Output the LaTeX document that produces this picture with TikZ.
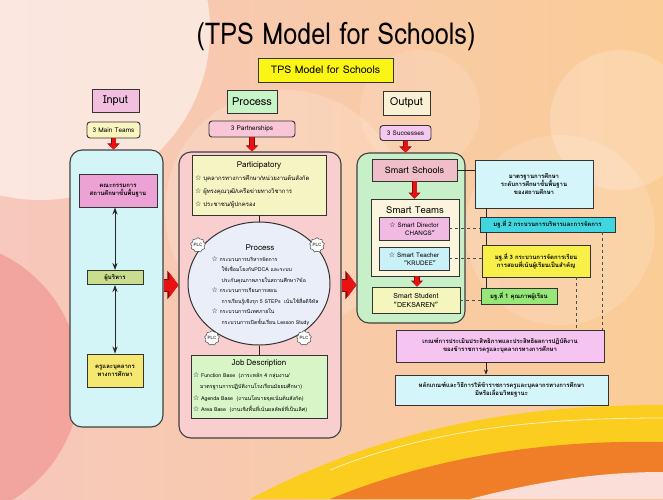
\documentclass[tikz,border=0pt]{standalone}
\usepackage{fontspec}
\setmainfont[Script=Thai]{Loma}
\newfontfamily\symfont{DejaVu Sans}
\usetikzlibrary{arrows.meta,shapes.geometric,shapes.symbols}
\definecolor{bgleft}{RGB}{247,200,188}
\definecolor{bgright}{RGB}{250,204,150}
\definecolor{bgred}{RGB}{238,135,135}
\definecolor{swyellow}{RGB}{250,205,30}
\definecolor{sworange}{RGB}{240,125,40}
\definecolor{arrred}{RGB}{232,18,18}
\definecolor{arrdark}{RGB}{130,10,10}
\definecolor{tpsyellow}{RGB}{250,245,20}
\definecolor{inpink}{RGB}{242,192,222}
\definecolor{prgreen}{RGB}{200,245,200}
\definecolor{outbeige}{RGB}{250,240,212}
\definecolor{teamyel}{RGB}{250,244,190}
\definecolor{partpink}{RGB}{248,198,214}
\definecolor{succlila}{RGB}{245,200,240}
\definecolor{incyan}{RGB}{212,245,248}
\definecolor{boardpink}{RGB}{236,162,212}
\definecolor{execgreen}{RGB}{200,222,142}
\definecolor{staffyel}{RGB}{245,232,112}
\definecolor{procpink}{RGB}{248,206,206}
\definecolor{partyel}{RGB}{245,245,196}
\definecolor{circblue}{RGB}{234,238,248}
\definecolor{jdgreen}{RGB}{216,245,200}
\definecolor{outgreen}{RGB}{200,240,200}
\definecolor{schpink}{RGB}{240,190,200}
\definecolor{teamcream}{RGB}{252,245,222}
\definecolor{dirpink}{RGB}{240,186,226}
\definecolor{teachcyan}{RGB}{202,240,248}
\definecolor{studyel}{RGB}{245,245,190}
\definecolor{stdcyan}{RGB}{212,245,250}
\definecolor{mtcyan}{RGB}{64,214,224}
\definecolor{mtyellow}{RGB}{248,240,72}
\definecolor{mtgreen}{RGB}{150,230,120}
\definecolor{critpink}{RGB}{245,196,240}
\newcommand{\wstar}{{\symfont\bfseries\fontsize{7}{7}\selectfont\char"2606}\ }
\begin{document}
\begin{tikzpicture}[x=1pt,y=-1pt,
  box/.style={draw=black!80, line width=0.9pt, align=center, inner sep=0pt},
  pill/.style={box, rounded corners=3pt},
  panel/.style={draw=black!75, line width=1.1pt, rounded corners=12pt},
  thai/.style={font=\fontsize{6}{8}\selectfont\bfseries},
  fatarr/.style={draw=arrred, line width=11pt, -{Triangle[length=9pt,width=24pt]},
    preaction={draw=arrdark, line width=13pt, -{Triangle[length=11pt,width=28pt]}}},
  downarr/.style={draw=arrred, line width=4pt, -{Triangle[length=5pt,width=10pt]},
    preaction={draw=arrdark, line width=5.5pt, -{Triangle[length=6pt,width=12pt]}}},
  link/.style={draw=black!85, line width=0.7pt},
  dlink/.style={draw=black!70, line width=0.5pt, dashed},
  plc/.style={cloud, cloud puffs=9, draw=black!70, fill=white, line width=0.5pt,
    minimum width=15pt, minimum height=12pt, inner sep=0pt, font=\fontsize{4.5}{5}\selectfont}]
\useasboundingbox (0,0) rectangle (663,499);
% background of the slide
\shade[left color=bgleft, right color=bgright] (0,0) rectangle (663,499);
\fill[white, opacity=0.55] (40,30) circle (170);
\fill[bgred, opacity=0.55] (-60,380) circle (140);
\fill[white, opacity=0.18] (285,210) circle (120);
\fill[white, opacity=0.15] (560,230) circle (95);
\fill[white, opacity=0.2] (620,120) circle (70);
\fill[white, opacity=0.12] (420,110) circle (60);
\fill[swyellow] (250,499) .. controls (400,420) and (540,405) .. (663,405) -- (663,499) -- cycle;
\draw[white, opacity=0.7, line width=0.8pt] (330,470) .. controls (440,425) and (560,418) .. (663,418);
\fill[sworange] (330,499) .. controls (450,450) and (570,440) .. (663,442) -- (663,499) -- cycle;
\fill[bgleft!60!white] (470,499) .. controls (550,478) and (610,472) .. (663,472) -- (663,499) -- cycle;

% title and heads
\node (title) at (336,37) {\scalebox{0.84}[1]{\fontsize{30}{30}\selectfont (TPS Model for Schools)}};
\node[box, fill=tpsyellow, minimum width=135pt, minimum height=24pt, font=\fontsize{10.5}{12}\selectfont] (tps) at (325.5,70) {TPS Model for Schools};
\node[box, fill=inpink, minimum width=47pt, minimum height=23pt, font=\fontsize{11}{12}\selectfont] (inhead) at (115.5,100.5) {Input};
\node[box, fill=prgreen, minimum width=50pt, minimum height=23pt, font=\fontsize{11}{12}\selectfont] (prochead) at (252,101.5) {Process};
\node[box, fill=outbeige, minimum width=47pt, minimum height=24pt, font=\fontsize{11}{12}\selectfont] (outhead) at (406.5,103) {Output};
\node[pill, fill=teamyel, minimum width=53pt, minimum height=16pt, font=\fontsize{6.5}{7}\selectfont] (teams) at (113.5,130) {3 Main Teams};
\node[pill, fill=partpink, minimum width=86pt, minimum height=16pt, font=\fontsize{6.5}{7}\selectfont] (partners) at (252,129) {3 Partnerships};
\node[pill, fill=succlila, minimum width=51pt, minimum height=15pt, font=\fontsize{6.5}{7}\selectfont] (succ) at (405.5,133) {3 Successes};

% input
\node[panel, fill=incyan, minimum width=93pt, minimum height=277pt] (inpanel) at (116.5,288.5) {};
\node[box, thai, fill=boardpink, minimum width=78pt, minimum height=33pt] (board) at (118,190.5) {คณะกรรมการ\\สถานศึกษาขั้นพื้นฐาน};
\node[box, thai, fill=execgreen, minimum width=56pt, minimum height=14pt] (exec) at (115,277.5) {ผู้บริหาร};
\node[box, thai, fill=staffyel, minimum width=56pt, minimum height=33pt] (staff) at (115,370.5) {ครูและบุคลากร\\ทางการศึกษา};
\draw[link, line width=1pt, {Stealth[length=7pt,width=5pt]}-{Stealth[length=7pt,width=5pt]}] (board.south -| exec.north) -- (exec.north);
\draw[link, line width=1pt, {Stealth[length=7pt,width=5pt]}-{Stealth[length=7pt,width=5pt]}] (exec.south) -- (staff.north);

% process
\node[panel, fill=procpink, minimum width=162pt, minimum height=286pt] (procpanel) at (260,295) {};
\node[box, fill=partyel, minimum width=134pt, minimum height=60pt, text width=128pt, align=left,
  font=\fontsize{6}{13}\selectfont] (partic) at (259,185)
  {\centering{\fontsize{8}{8}\selectfont Participatory}\par\raggedright
   \wstar บุคลากรทางการศึกษา/หน่วยงานต้นสังกัด\par
   \wstar ผู้ทรงคุณวุฒิ/เครือข่ายทางวิชาการ\par
   \wstar ประชาชน/ผู้ปกครอง\par};
\node[ellipse, draw=black!80, line width=1pt, fill=circblue, minimum width=142pt, minimum height=123pt] (proccirc) at (259,283.5) {};
\node[align=left, inner sep=0pt, font=\fontsize{5.2}{10.5}\selectfont] (proctext) at (265,285)
  {\hspace*{34pt}{\fontsize{8}{8}\selectfont Process}\\
   \wstar กระบวนการบริหารจัดการ\\
   \hspace*{10pt}ใช้เชื่อมโยงกับPDCA และระบบ\\
   \hspace*{10pt}ประกันคุณภาพภายในสถานศึกษา7ข้อ\\
   \wstar กระบวนการเรียนการสอน\\
   \hspace*{10pt}การเรียนรู้เชิงรุก 5 STEPs\ \ เน้นใช้สื่อดิจิทัล\\
   \wstar กระบวนการนิเทศภายใน\\
   \hspace*{10pt}กระบวนการเปิดชั้นเรียน Lesson Study};
\node[plc] (plca) at (198,245) {PLC};
\node[plc] (plcb) at (317,245) {PLC};
\node[plc] (plcc) at (212,338) {PLC};
\node[plc] (plcd) at (304,338) {PLC};
\node[box, fill=jdgreen, minimum width=136pt, minimum height=63pt, text width=132pt, align=left,
  font=\fontsize{5.3}{11.5}\selectfont] (jd) at (259,386.5)
  {\centering{\fontsize{8}{8}\selectfont Job Description}\par\raggedright
   \wstar Function Base\ \ (ภาระหลัก 4 กลุ่มงาน/\par
   \hspace*{7pt}มาตรฐานการปฏิบัติงานโรงเรียนมัธยมศึกษา)\par
   \wstar Agenda Base\ \ (งานนโยบายจุดเน้นต้นสังกัด)\par
   \wstar Area Base\ \ (งานเชิงพื้นที่เน้นผลลัพธ์ที่เป็นเลิศ)\par};
\draw[link] (partic.south) -- (proccirc.north);
\draw[link] (proccirc.south) -- (jd.north);

% output
\node[panel, fill=outgreen, minimum width=108pt, minimum height=170pt] (outpanel) at (411,238) {};
\node[box, fill=schpink, minimum width=85pt, minimum height=22pt, font=\fontsize{9}{10}\selectfont] (school) at (414.5,170) {Smart Schools};
\node[box, fill=teamcream, minimum width=88pt, minimum height=77pt] (steams) at (415,237.5) {};
\node[font=\fontsize{9.5}{10}\selectfont] (steamslbl) at (415,210) {Smart Teams};
\node[box, fill=dirpink, minimum width=70pt, minimum height=23pt, font=\fontsize{6.3}{8}\selectfont] (director) at (414,228.5) {\wstar Smart Director\\\hspace*{12pt}CHANGS"};
\node[box, fill=teachcyan, minimum width=70pt, minimum height=23pt, font=\fontsize{6.3}{8}\selectfont] (teacher) at (414,258.5) {\wstar Smart Teacher\\\hspace*{12pt}"KRUDEE"};
\node[box, fill=studyel, minimum width=88pt, minimum height=26pt, font=\fontsize{7}{9}\selectfont] (student) at (416,300) {Smart Student\\"DEKSAREN"};

% standards column
\coordinate (spine) at (486,0);
\coordinate (dasha) at (576,0);
\coordinate (dashb) at (602,0);
\coordinate (arrowrow) at (0,285);
\node[box, thai, fill=stdcyan, minimum width=118pt, minimum height=48pt] (std) at (534,184) {มาตรฐานการศึกษา\\ระดับการศึกษาขั้นพื้นฐาน\\ของสถานศึกษา};
\node[box, thai, fill=mtcyan, minimum width=135pt, minimum height=15pt] (mt2) at (547.5,224.5) {มฐ.ที่ 2 กระบวนการบริหารและการจัดการ};
\node[box, thai, fill=mtyellow, minimum width=108pt, minimum height=32pt] (mt3) at (536,261) {มฐ.ที่ 3 กระบวนการจัดการเรียน\\การสอนที่เน้นผู้เรียนเป็นสำคัญ};
\node[box, thai, fill=mtgreen, minimum width=76pt, minimum height=16pt] (mt1) at (519,296) {มฐ.ที่ 1 คุณภาพผู้เรียน};
\node[box, thai, fill=critpink, minimum width=208pt, minimum height=32pt] (crit) at (500,346) {เกณฑ์การประเมินประสิทธิภาพและประสิทธิผลการปฏิบัติงาน\\ของข้าราชการครูและบุคลากรทางการศึกษา};
\node[box, thai, fill=stdcyan, minimum width=213pt, minimum height=30pt] (rule) at (501.5,390) {หลักเกณฑ์และวิธีการให้ข้าราชการครูและบุคลากรทางการศึกษา\\มีหรือเลื่อนวิทยฐานะ};

% connectors
\draw[downarr] (teams.south) -- (teams.south |- inpanel.north);
\draw[downarr] (partners.south) -- (partners.south |- procpanel.north);
\draw[downarr] (succ.south) -- (succ.south |- outpanel.north);
\draw[downarr] (school.south) -- (steams.north -| school.south);
\draw[downarr] ([xshift=2pt]steams.south) -- ([xshift=2pt]steams.south |- student.north);
\draw[fatarr] (inpanel.east |- arrowrow) -- (procpanel.west |- arrowrow);
\draw[fatarr] (procpanel.east |- arrowrow) -- (outpanel.west |- arrowrow);
\draw[link] (school.east) -- (school.east -| std.west);
\draw[dlink] (director.east) -- (director.east -| mt2.west);
\draw[dlink] (teacher.east) -- (teacher.east -| mt3.west);
\draw[dlink] (student.east) -- (student.east -| mt1.west);
\draw[link] (std.south -| spine) -- (mt2.north -| spine);
\draw[link] (mt2.south -| spine) -- (mt3.north -| spine);
\draw[link] (mt3.south -| spine) -- (mt1.north -| spine);
\draw[dlink] (mt3.south -| dasha) -- (crit.north -| dasha);
\draw[dlink] (mt2.south -| dashb) -- (crit.north -| dashb);
\draw[link, -{Stealth[length=5pt,width=4pt]}] (crit.south -| spine) -- (rule.north -| spine);
\end{tikzpicture}
\end{document}
